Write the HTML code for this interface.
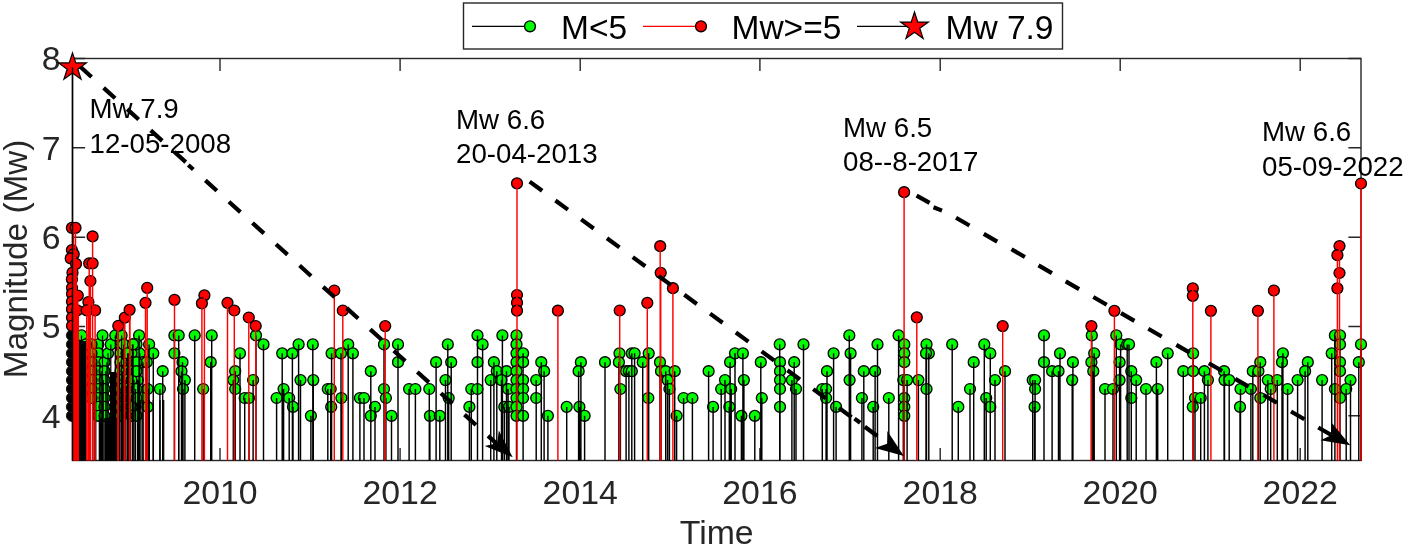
<!DOCTYPE html><html><head><meta charset="utf-8"><style>html,body{margin:0;padding:0;background:#fff;overflow:hidden;}svg{display:block;will-change:transform;}text{font-family:"Liberation Sans",sans-serif;}</style></head><body>
<svg width="1405" height="547" viewBox="0 0 1405 547">
<rect width="1405" height="547" fill="#fff"/>
<defs><clipPath id="ax"><rect x="72.5" y="58.5" width="1290.0" height="402.0"/></clipPath></defs>
<rect x="72.5" y="58.5" width="1288.5" height="402.0" fill="none" stroke="#262626" stroke-width="1.4"/>
<path d="M220.0 460.5V447.9M220.0 58.5V71.1 M400.1 460.5V447.9M400.1 58.5V71.1 M580.2 460.5V447.9M580.2 58.5V71.1 M759.9 460.5V447.9M759.9 58.5V71.1 M940.2 460.5V447.9M940.2 58.5V71.1 M1120.2 460.5V447.9M1120.2 58.5V71.1 M1300.2 460.5V447.9M1300.2 58.5V71.1 M72.5 415.8H85.1M1361.0 415.8H1348.4 M72.5 326.5H85.1M1361.0 326.5H1348.4 M72.5 237.2H85.1M1361.0 237.2H1348.4 M72.5 147.8H85.1M1361.0 147.8H1348.4 M72.5 58.5H85.1M1361.0 58.5H1348.4" stroke="#262626" stroke-width="1.4" fill="none"/>
<g clip-path="url(#ax)">

</g>
<circle cx="139.1" cy="335.4" r="5.45" fill="#0f0" stroke="#000" stroke-width="1.35"/>
<circle cx="132.5" cy="344.4" r="5.45" fill="#0f0" stroke="#000" stroke-width="1.35"/>
<circle cx="149.1" cy="344.4" r="5.45" fill="#0f0" stroke="#000" stroke-width="1.35"/>
<circle cx="139.7" cy="353.3" r="5.45" fill="#0f0" stroke="#000" stroke-width="1.35"/>
<circle cx="153.3" cy="353.3" r="5.45" fill="#0f0" stroke="#000" stroke-width="1.35"/>
<circle cx="142.9" cy="362.2" r="5.45" fill="#0f0" stroke="#000" stroke-width="1.35"/>
<circle cx="146.7" cy="362.2" r="5.45" fill="#0f0" stroke="#000" stroke-width="1.35"/>
<circle cx="128.8" cy="353.3" r="5.45" fill="#0f0" stroke="#000" stroke-width="1.35"/>
<circle cx="132.5" cy="371.2" r="5.45" fill="#0f0" stroke="#000" stroke-width="1.35"/>
<circle cx="162.7" cy="371.2" r="5.45" fill="#0f0" stroke="#000" stroke-width="1.35"/>
<circle cx="137.8" cy="380.1" r="5.45" fill="#0f0" stroke="#000" stroke-width="1.35"/>
<circle cx="147.6" cy="389.0" r="5.45" fill="#0f0" stroke="#000" stroke-width="1.35"/>
<circle cx="159.9" cy="389.0" r="5.45" fill="#0f0" stroke="#000" stroke-width="1.35"/>
<circle cx="142.9" cy="398.0" r="5.45" fill="#0f0" stroke="#000" stroke-width="1.35"/>
<circle cx="135.4" cy="406.9" r="5.45" fill="#0f0" stroke="#000" stroke-width="1.35"/>
<circle cx="147.6" cy="406.9" r="5.45" fill="#0f0" stroke="#000" stroke-width="1.35"/>
<circle cx="174.4" cy="335.4" r="5.45" fill="#0f0" stroke="#000" stroke-width="1.35"/>
<circle cx="178.7" cy="335.4" r="5.45" fill="#0f0" stroke="#000" stroke-width="1.35"/>
<circle cx="194.7" cy="335.4" r="5.45" fill="#0f0" stroke="#000" stroke-width="1.35"/>
<circle cx="211.7" cy="335.4" r="5.45" fill="#0f0" stroke="#000" stroke-width="1.35"/>
<circle cx="174.4" cy="353.3" r="5.45" fill="#0f0" stroke="#000" stroke-width="1.35"/>
<circle cx="182.5" cy="362.2" r="5.45" fill="#0f0" stroke="#000" stroke-width="1.35"/>
<circle cx="181.5" cy="371.2" r="5.45" fill="#0f0" stroke="#000" stroke-width="1.35"/>
<circle cx="184.9" cy="380.1" r="5.45" fill="#0f0" stroke="#000" stroke-width="1.35"/>
<circle cx="183.0" cy="389.0" r="5.45" fill="#0f0" stroke="#000" stroke-width="1.35"/>
<circle cx="203.2" cy="389.0" r="5.45" fill="#0f0" stroke="#000" stroke-width="1.35"/>
<circle cx="210.7" cy="362.2" r="5.45" fill="#0f0" stroke="#000" stroke-width="1.35"/>
<circle cx="240.0" cy="353.3" r="5.45" fill="#0f0" stroke="#000" stroke-width="1.35"/>
<circle cx="235.2" cy="371.2" r="5.45" fill="#0f0" stroke="#000" stroke-width="1.35"/>
<circle cx="233.3" cy="380.1" r="5.45" fill="#0f0" stroke="#000" stroke-width="1.35"/>
<circle cx="235.2" cy="389.0" r="5.45" fill="#0f0" stroke="#000" stroke-width="1.35"/>
<circle cx="253.1" cy="380.1" r="5.45" fill="#0f0" stroke="#000" stroke-width="1.35"/>
<circle cx="244.7" cy="398.0" r="5.45" fill="#0f0" stroke="#000" stroke-width="1.35"/>
<circle cx="249.0" cy="398.0" r="5.45" fill="#0f0" stroke="#000" stroke-width="1.35"/>
<circle cx="256.0" cy="335.4" r="5.45" fill="#0f0" stroke="#000" stroke-width="1.35"/>
<circle cx="263.5" cy="344.4" r="5.45" fill="#0f0" stroke="#000" stroke-width="1.35"/>
<circle cx="282.2" cy="353.3" r="5.45" fill="#0f0" stroke="#000" stroke-width="1.35"/>
<circle cx="292.4" cy="353.3" r="5.45" fill="#0f0" stroke="#000" stroke-width="1.35"/>
<circle cx="298.6" cy="344.4" r="5.45" fill="#0f0" stroke="#000" stroke-width="1.35"/>
<circle cx="312.8" cy="344.4" r="5.45" fill="#0f0" stroke="#000" stroke-width="1.35"/>
<circle cx="300.5" cy="380.1" r="5.45" fill="#0f0" stroke="#000" stroke-width="1.35"/>
<circle cx="313.3" cy="380.1" r="5.45" fill="#0f0" stroke="#000" stroke-width="1.35"/>
<circle cx="283.6" cy="389.0" r="5.45" fill="#0f0" stroke="#000" stroke-width="1.35"/>
<circle cx="276.6" cy="398.0" r="5.45" fill="#0f0" stroke="#000" stroke-width="1.35"/>
<circle cx="289.2" cy="398.0" r="5.45" fill="#0f0" stroke="#000" stroke-width="1.35"/>
<circle cx="293.0" cy="406.9" r="5.45" fill="#0f0" stroke="#000" stroke-width="1.35"/>
<circle cx="310.9" cy="415.8" r="5.45" fill="#0f0" stroke="#000" stroke-width="1.35"/>
<circle cx="327.8" cy="389.0" r="5.45" fill="#0f0" stroke="#000" stroke-width="1.35"/>
<circle cx="330.7" cy="389.0" r="5.45" fill="#0f0" stroke="#000" stroke-width="1.35"/>
<circle cx="331.2" cy="406.9" r="5.45" fill="#0f0" stroke="#000" stroke-width="1.35"/>
<circle cx="331.6" cy="353.3" r="5.45" fill="#0f0" stroke="#000" stroke-width="1.35"/>
<circle cx="341.0" cy="353.3" r="5.45" fill="#0f0" stroke="#000" stroke-width="1.35"/>
<circle cx="348.2" cy="344.4" r="5.45" fill="#0f0" stroke="#000" stroke-width="1.35"/>
<circle cx="352.9" cy="353.3" r="5.45" fill="#0f0" stroke="#000" stroke-width="1.35"/>
<circle cx="341.4" cy="398.0" r="5.45" fill="#0f0" stroke="#000" stroke-width="1.35"/>
<circle cx="359.9" cy="398.0" r="5.45" fill="#0f0" stroke="#000" stroke-width="1.35"/>
<circle cx="364.0" cy="398.0" r="5.45" fill="#0f0" stroke="#000" stroke-width="1.35"/>
<circle cx="370.8" cy="371.2" r="5.45" fill="#0f0" stroke="#000" stroke-width="1.35"/>
<circle cx="375.0" cy="406.9" r="5.45" fill="#0f0" stroke="#000" stroke-width="1.35"/>
<circle cx="370.8" cy="415.8" r="5.45" fill="#0f0" stroke="#000" stroke-width="1.35"/>
<circle cx="384.0" cy="344.4" r="5.45" fill="#0f0" stroke="#000" stroke-width="1.35"/>
<circle cx="384.0" cy="389.0" r="5.45" fill="#0f0" stroke="#000" stroke-width="1.35"/>
<circle cx="385.9" cy="398.0" r="5.45" fill="#0f0" stroke="#000" stroke-width="1.35"/>
<circle cx="391.5" cy="415.8" r="5.45" fill="#0f0" stroke="#000" stroke-width="1.35"/>
<circle cx="398.0" cy="344.4" r="5.45" fill="#0f0" stroke="#000" stroke-width="1.35"/>
<circle cx="398.0" cy="362.2" r="5.45" fill="#0f0" stroke="#000" stroke-width="1.35"/>
<circle cx="409.1" cy="389.0" r="5.45" fill="#0f0" stroke="#000" stroke-width="1.35"/>
<circle cx="415.4" cy="389.0" r="5.45" fill="#0f0" stroke="#000" stroke-width="1.35"/>
<circle cx="429.3" cy="389.0" r="5.45" fill="#0f0" stroke="#000" stroke-width="1.35"/>
<circle cx="436.1" cy="362.2" r="5.45" fill="#0f0" stroke="#000" stroke-width="1.35"/>
<circle cx="447.8" cy="344.4" r="5.45" fill="#0f0" stroke="#000" stroke-width="1.35"/>
<circle cx="451.2" cy="362.2" r="5.45" fill="#0f0" stroke="#000" stroke-width="1.35"/>
<circle cx="445.5" cy="380.1" r="5.45" fill="#0f0" stroke="#000" stroke-width="1.35"/>
<circle cx="448.7" cy="398.0" r="5.45" fill="#0f0" stroke="#000" stroke-width="1.35"/>
<circle cx="429.9" cy="415.8" r="5.45" fill="#0f0" stroke="#000" stroke-width="1.35"/>
<circle cx="439.8" cy="415.8" r="5.45" fill="#0f0" stroke="#000" stroke-width="1.35"/>
<circle cx="477.5" cy="335.4" r="5.45" fill="#0f0" stroke="#000" stroke-width="1.35"/>
<circle cx="482.6" cy="344.4" r="5.45" fill="#0f0" stroke="#000" stroke-width="1.35"/>
<circle cx="477.5" cy="362.2" r="5.45" fill="#0f0" stroke="#000" stroke-width="1.35"/>
<circle cx="471.3" cy="389.0" r="5.45" fill="#0f0" stroke="#000" stroke-width="1.35"/>
<circle cx="477.5" cy="389.0" r="5.45" fill="#0f0" stroke="#000" stroke-width="1.35"/>
<circle cx="469.4" cy="406.9" r="5.45" fill="#0f0" stroke="#000" stroke-width="1.35"/>
<circle cx="502.4" cy="335.4" r="5.45" fill="#0f0" stroke="#000" stroke-width="1.35"/>
<circle cx="493.9" cy="362.2" r="5.45" fill="#0f0" stroke="#000" stroke-width="1.35"/>
<circle cx="496.8" cy="371.2" r="5.45" fill="#0f0" stroke="#000" stroke-width="1.35"/>
<circle cx="506.5" cy="371.2" r="5.45" fill="#0f0" stroke="#000" stroke-width="1.35"/>
<circle cx="490.7" cy="380.1" r="5.45" fill="#0f0" stroke="#000" stroke-width="1.35"/>
<circle cx="501.5" cy="380.1" r="5.45" fill="#0f0" stroke="#000" stroke-width="1.35"/>
<circle cx="508.1" cy="389.0" r="5.45" fill="#0f0" stroke="#000" stroke-width="1.35"/>
<circle cx="504.3" cy="406.9" r="5.45" fill="#0f0" stroke="#000" stroke-width="1.35"/>
<circle cx="509.0" cy="406.9" r="5.45" fill="#0f0" stroke="#000" stroke-width="1.35"/>
<circle cx="516.5" cy="335.4" r="5.45" fill="#0f0" stroke="#000" stroke-width="1.35"/>
<circle cx="516.5" cy="344.4" r="5.45" fill="#0f0" stroke="#000" stroke-width="1.35"/>
<circle cx="516.5" cy="353.3" r="5.45" fill="#0f0" stroke="#000" stroke-width="1.35"/>
<circle cx="516.5" cy="362.2" r="5.45" fill="#0f0" stroke="#000" stroke-width="1.35"/>
<circle cx="516.5" cy="371.2" r="5.45" fill="#0f0" stroke="#000" stroke-width="1.35"/>
<circle cx="516.5" cy="380.1" r="5.45" fill="#0f0" stroke="#000" stroke-width="1.35"/>
<circle cx="516.5" cy="389.0" r="5.45" fill="#0f0" stroke="#000" stroke-width="1.35"/>
<circle cx="516.5" cy="398.0" r="5.45" fill="#0f0" stroke="#000" stroke-width="1.35"/>
<circle cx="516.5" cy="406.9" r="5.45" fill="#0f0" stroke="#000" stroke-width="1.35"/>
<circle cx="516.5" cy="415.8" r="5.45" fill="#0f0" stroke="#000" stroke-width="1.35"/>
<circle cx="523.1" cy="353.3" r="5.45" fill="#0f0" stroke="#000" stroke-width="1.35"/>
<circle cx="523.1" cy="362.2" r="5.45" fill="#0f0" stroke="#000" stroke-width="1.35"/>
<circle cx="523.1" cy="380.1" r="5.45" fill="#0f0" stroke="#000" stroke-width="1.35"/>
<circle cx="523.1" cy="389.0" r="5.45" fill="#0f0" stroke="#000" stroke-width="1.35"/>
<circle cx="523.1" cy="398.0" r="5.45" fill="#0f0" stroke="#000" stroke-width="1.35"/>
<circle cx="523.1" cy="415.8" r="5.45" fill="#0f0" stroke="#000" stroke-width="1.35"/>
<circle cx="541.3" cy="362.2" r="5.45" fill="#0f0" stroke="#000" stroke-width="1.35"/>
<circle cx="544.1" cy="371.2" r="5.45" fill="#0f0" stroke="#000" stroke-width="1.35"/>
<circle cx="536.2" cy="380.1" r="5.45" fill="#0f0" stroke="#000" stroke-width="1.35"/>
<circle cx="536.2" cy="398.0" r="5.45" fill="#0f0" stroke="#000" stroke-width="1.35"/>
<circle cx="547.9" cy="415.8" r="5.45" fill="#0f0" stroke="#000" stroke-width="1.35"/>
<circle cx="566.7" cy="406.9" r="5.45" fill="#0f0" stroke="#000" stroke-width="1.35"/>
<circle cx="580.9" cy="362.2" r="5.45" fill="#0f0" stroke="#000" stroke-width="1.35"/>
<circle cx="578.6" cy="371.2" r="5.45" fill="#0f0" stroke="#000" stroke-width="1.35"/>
<circle cx="579.4" cy="406.9" r="5.45" fill="#0f0" stroke="#000" stroke-width="1.35"/>
<circle cx="584.6" cy="415.8" r="5.45" fill="#0f0" stroke="#000" stroke-width="1.35"/>
<circle cx="605.0" cy="362.2" r="5.45" fill="#0f0" stroke="#000" stroke-width="1.35"/>
<circle cx="619.5" cy="353.3" r="5.45" fill="#0f0" stroke="#000" stroke-width="1.35"/>
<circle cx="618.9" cy="362.2" r="5.45" fill="#0f0" stroke="#000" stroke-width="1.35"/>
<circle cx="620.4" cy="389.0" r="5.45" fill="#0f0" stroke="#000" stroke-width="1.35"/>
<circle cx="626.1" cy="371.2" r="5.45" fill="#0f0" stroke="#000" stroke-width="1.35"/>
<circle cx="628.9" cy="371.2" r="5.45" fill="#0f0" stroke="#000" stroke-width="1.35"/>
<circle cx="631.8" cy="371.2" r="5.45" fill="#0f0" stroke="#000" stroke-width="1.35"/>
<circle cx="631.8" cy="353.3" r="5.45" fill="#0f0" stroke="#000" stroke-width="1.35"/>
<circle cx="634.6" cy="353.3" r="5.45" fill="#0f0" stroke="#000" stroke-width="1.35"/>
<circle cx="642.7" cy="362.2" r="5.45" fill="#0f0" stroke="#000" stroke-width="1.35"/>
<circle cx="648.7" cy="353.3" r="5.45" fill="#0f0" stroke="#000" stroke-width="1.35"/>
<circle cx="648.3" cy="398.0" r="5.45" fill="#0f0" stroke="#000" stroke-width="1.35"/>
<circle cx="660.0" cy="362.2" r="5.45" fill="#0f0" stroke="#000" stroke-width="1.35"/>
<circle cx="661.0" cy="371.2" r="5.45" fill="#0f0" stroke="#000" stroke-width="1.35"/>
<circle cx="665.7" cy="371.2" r="5.45" fill="#0f0" stroke="#000" stroke-width="1.35"/>
<circle cx="667.6" cy="380.1" r="5.45" fill="#0f0" stroke="#000" stroke-width="1.35"/>
<circle cx="669.4" cy="389.0" r="5.45" fill="#0f0" stroke="#000" stroke-width="1.35"/>
<circle cx="674.7" cy="371.2" r="5.45" fill="#0f0" stroke="#000" stroke-width="1.35"/>
<circle cx="676.6" cy="415.8" r="5.45" fill="#0f0" stroke="#000" stroke-width="1.35"/>
<circle cx="683.6" cy="398.0" r="5.45" fill="#0f0" stroke="#000" stroke-width="1.35"/>
<circle cx="692.4" cy="398.0" r="5.45" fill="#0f0" stroke="#000" stroke-width="1.35"/>
<circle cx="708.6" cy="371.2" r="5.45" fill="#0f0" stroke="#000" stroke-width="1.35"/>
<circle cx="713.1" cy="406.9" r="5.45" fill="#0f0" stroke="#000" stroke-width="1.35"/>
<circle cx="721.2" cy="389.0" r="5.45" fill="#0f0" stroke="#000" stroke-width="1.35"/>
<circle cx="725.0" cy="380.1" r="5.45" fill="#0f0" stroke="#000" stroke-width="1.35"/>
<circle cx="730.1" cy="362.2" r="5.45" fill="#0f0" stroke="#000" stroke-width="1.35"/>
<circle cx="731.2" cy="389.0" r="5.45" fill="#0f0" stroke="#000" stroke-width="1.35"/>
<circle cx="729.3" cy="406.9" r="5.45" fill="#0f0" stroke="#000" stroke-width="1.35"/>
<circle cx="735.0" cy="353.3" r="5.45" fill="#0f0" stroke="#000" stroke-width="1.35"/>
<circle cx="742.9" cy="353.3" r="5.45" fill="#0f0" stroke="#000" stroke-width="1.35"/>
<circle cx="743.9" cy="380.1" r="5.45" fill="#0f0" stroke="#000" stroke-width="1.35"/>
<circle cx="741.4" cy="415.8" r="5.45" fill="#0f0" stroke="#000" stroke-width="1.35"/>
<circle cx="754.8" cy="415.8" r="5.45" fill="#0f0" stroke="#000" stroke-width="1.35"/>
<circle cx="760.8" cy="362.2" r="5.45" fill="#0f0" stroke="#000" stroke-width="1.35"/>
<circle cx="761.8" cy="398.0" r="5.45" fill="#0f0" stroke="#000" stroke-width="1.35"/>
<circle cx="779.7" cy="344.4" r="5.45" fill="#0f0" stroke="#000" stroke-width="1.35"/>
<circle cx="780.0" cy="362.2" r="5.45" fill="#0f0" stroke="#000" stroke-width="1.35"/>
<circle cx="780.0" cy="371.2" r="5.45" fill="#0f0" stroke="#000" stroke-width="1.35"/>
<circle cx="780.0" cy="380.1" r="5.45" fill="#0f0" stroke="#000" stroke-width="1.35"/>
<circle cx="780.0" cy="389.0" r="5.45" fill="#0f0" stroke="#000" stroke-width="1.35"/>
<circle cx="780.0" cy="406.9" r="5.45" fill="#0f0" stroke="#000" stroke-width="1.35"/>
<circle cx="794.2" cy="362.2" r="5.45" fill="#0f0" stroke="#000" stroke-width="1.35"/>
<circle cx="791.9" cy="380.1" r="5.45" fill="#0f0" stroke="#000" stroke-width="1.35"/>
<circle cx="796.0" cy="389.0" r="5.45" fill="#0f0" stroke="#000" stroke-width="1.35"/>
<circle cx="803.5" cy="344.4" r="5.45" fill="#0f0" stroke="#000" stroke-width="1.35"/>
<circle cx="833.6" cy="353.3" r="5.45" fill="#0f0" stroke="#000" stroke-width="1.35"/>
<circle cx="827.0" cy="371.2" r="5.45" fill="#0f0" stroke="#000" stroke-width="1.35"/>
<circle cx="822.3" cy="389.0" r="5.45" fill="#0f0" stroke="#000" stroke-width="1.35"/>
<circle cx="826.1" cy="389.0" r="5.45" fill="#0f0" stroke="#000" stroke-width="1.35"/>
<circle cx="826.1" cy="398.0" r="5.45" fill="#0f0" stroke="#000" stroke-width="1.35"/>
<circle cx="836.1" cy="406.9" r="5.45" fill="#0f0" stroke="#000" stroke-width="1.35"/>
<circle cx="849.3" cy="335.4" r="5.45" fill="#0f0" stroke="#000" stroke-width="1.35"/>
<circle cx="850.6" cy="353.3" r="5.45" fill="#0f0" stroke="#000" stroke-width="1.35"/>
<circle cx="849.6" cy="380.1" r="5.45" fill="#0f0" stroke="#000" stroke-width="1.35"/>
<circle cx="863.8" cy="371.2" r="5.45" fill="#0f0" stroke="#000" stroke-width="1.35"/>
<circle cx="875.1" cy="371.2" r="5.45" fill="#0f0" stroke="#000" stroke-width="1.35"/>
<circle cx="861.9" cy="398.0" r="5.45" fill="#0f0" stroke="#000" stroke-width="1.35"/>
<circle cx="873.2" cy="406.9" r="5.45" fill="#0f0" stroke="#000" stroke-width="1.35"/>
<circle cx="877.5" cy="344.4" r="5.45" fill="#0f0" stroke="#000" stroke-width="1.35"/>
<circle cx="888.8" cy="398.0" r="5.45" fill="#0f0" stroke="#000" stroke-width="1.35"/>
<circle cx="898.6" cy="335.4" r="5.45" fill="#0f0" stroke="#000" stroke-width="1.35"/>
<circle cx="904.3" cy="344.4" r="5.45" fill="#0f0" stroke="#000" stroke-width="1.35"/>
<circle cx="904.3" cy="353.3" r="5.45" fill="#0f0" stroke="#000" stroke-width="1.35"/>
<circle cx="904.3" cy="362.2" r="5.45" fill="#0f0" stroke="#000" stroke-width="1.35"/>
<circle cx="903.3" cy="380.1" r="5.45" fill="#0f0" stroke="#000" stroke-width="1.35"/>
<circle cx="907.1" cy="380.1" r="5.45" fill="#0f0" stroke="#000" stroke-width="1.35"/>
<circle cx="904.3" cy="398.0" r="5.45" fill="#0f0" stroke="#000" stroke-width="1.35"/>
<circle cx="904.3" cy="406.9" r="5.45" fill="#0f0" stroke="#000" stroke-width="1.35"/>
<circle cx="904.3" cy="415.8" r="5.45" fill="#0f0" stroke="#000" stroke-width="1.35"/>
<circle cx="918.4" cy="380.1" r="5.45" fill="#0f0" stroke="#000" stroke-width="1.35"/>
<circle cx="926.5" cy="344.4" r="5.45" fill="#0f0" stroke="#000" stroke-width="1.35"/>
<circle cx="928.8" cy="353.3" r="5.45" fill="#0f0" stroke="#000" stroke-width="1.35"/>
<circle cx="926.0" cy="353.3" r="5.45" fill="#0f0" stroke="#000" stroke-width="1.35"/>
<circle cx="926.5" cy="389.0" r="5.45" fill="#0f0" stroke="#000" stroke-width="1.35"/>
<circle cx="952.2" cy="344.4" r="5.45" fill="#0f0" stroke="#000" stroke-width="1.35"/>
<circle cx="958.3" cy="406.9" r="5.45" fill="#0f0" stroke="#000" stroke-width="1.35"/>
<circle cx="973.7" cy="362.2" r="5.45" fill="#0f0" stroke="#000" stroke-width="1.35"/>
<circle cx="970.0" cy="389.0" r="5.45" fill="#0f0" stroke="#000" stroke-width="1.35"/>
<circle cx="984.3" cy="344.4" r="5.45" fill="#0f0" stroke="#000" stroke-width="1.35"/>
<circle cx="990.3" cy="353.3" r="5.45" fill="#0f0" stroke="#000" stroke-width="1.35"/>
<circle cx="995.0" cy="380.1" r="5.45" fill="#0f0" stroke="#000" stroke-width="1.35"/>
<circle cx="986.2" cy="398.0" r="5.45" fill="#0f0" stroke="#000" stroke-width="1.35"/>
<circle cx="990.3" cy="406.9" r="5.45" fill="#0f0" stroke="#000" stroke-width="1.35"/>
<circle cx="1005.0" cy="371.2" r="5.45" fill="#0f0" stroke="#000" stroke-width="1.35"/>
<circle cx="1032.7" cy="380.1" r="5.45" fill="#0f0" stroke="#000" stroke-width="1.35"/>
<circle cx="1035.1" cy="380.1" r="5.45" fill="#0f0" stroke="#000" stroke-width="1.35"/>
<circle cx="1035.1" cy="389.0" r="5.45" fill="#0f0" stroke="#000" stroke-width="1.35"/>
<circle cx="1034.6" cy="406.9" r="5.45" fill="#0f0" stroke="#000" stroke-width="1.35"/>
<circle cx="1044.0" cy="335.4" r="5.45" fill="#0f0" stroke="#000" stroke-width="1.35"/>
<circle cx="1044.0" cy="362.2" r="5.45" fill="#0f0" stroke="#000" stroke-width="1.35"/>
<circle cx="1052.1" cy="371.2" r="5.45" fill="#0f0" stroke="#000" stroke-width="1.35"/>
<circle cx="1058.5" cy="371.2" r="5.45" fill="#0f0" stroke="#000" stroke-width="1.35"/>
<circle cx="1060.0" cy="353.3" r="5.45" fill="#0f0" stroke="#000" stroke-width="1.35"/>
<circle cx="1072.9" cy="362.2" r="5.45" fill="#0f0" stroke="#000" stroke-width="1.35"/>
<circle cx="1072.2" cy="380.1" r="5.45" fill="#0f0" stroke="#000" stroke-width="1.35"/>
<circle cx="1091.8" cy="335.4" r="5.45" fill="#0f0" stroke="#000" stroke-width="1.35"/>
<circle cx="1094.2" cy="353.3" r="5.45" fill="#0f0" stroke="#000" stroke-width="1.35"/>
<circle cx="1091.4" cy="362.2" r="5.45" fill="#0f0" stroke="#000" stroke-width="1.35"/>
<circle cx="1093.3" cy="371.2" r="5.45" fill="#0f0" stroke="#000" stroke-width="1.35"/>
<circle cx="1105.0" cy="389.0" r="5.45" fill="#0f0" stroke="#000" stroke-width="1.35"/>
<circle cx="1113.0" cy="389.0" r="5.45" fill="#0f0" stroke="#000" stroke-width="1.35"/>
<circle cx="1116.3" cy="335.4" r="5.45" fill="#0f0" stroke="#000" stroke-width="1.35"/>
<circle cx="1120.6" cy="344.4" r="5.45" fill="#0f0" stroke="#000" stroke-width="1.35"/>
<circle cx="1127.2" cy="344.4" r="5.45" fill="#0f0" stroke="#000" stroke-width="1.35"/>
<circle cx="1129.0" cy="344.4" r="5.45" fill="#0f0" stroke="#000" stroke-width="1.35"/>
<circle cx="1119.6" cy="362.2" r="5.45" fill="#0f0" stroke="#000" stroke-width="1.35"/>
<circle cx="1119.6" cy="380.1" r="5.45" fill="#0f0" stroke="#000" stroke-width="1.35"/>
<circle cx="1131.3" cy="371.2" r="5.45" fill="#0f0" stroke="#000" stroke-width="1.35"/>
<circle cx="1136.2" cy="380.1" r="5.45" fill="#0f0" stroke="#000" stroke-width="1.35"/>
<circle cx="1131.3" cy="398.0" r="5.45" fill="#0f0" stroke="#000" stroke-width="1.35"/>
<circle cx="1146.0" cy="389.0" r="5.45" fill="#0f0" stroke="#000" stroke-width="1.35"/>
<circle cx="1156.4" cy="362.2" r="5.45" fill="#0f0" stroke="#000" stroke-width="1.35"/>
<circle cx="1157.7" cy="389.0" r="5.45" fill="#0f0" stroke="#000" stroke-width="1.35"/>
<circle cx="1167.7" cy="353.3" r="5.45" fill="#0f0" stroke="#000" stroke-width="1.35"/>
<circle cx="1183.3" cy="371.2" r="5.45" fill="#0f0" stroke="#000" stroke-width="1.35"/>
<circle cx="1193.1" cy="353.3" r="5.45" fill="#0f0" stroke="#000" stroke-width="1.35"/>
<circle cx="1193.1" cy="371.2" r="5.45" fill="#0f0" stroke="#000" stroke-width="1.35"/>
<circle cx="1195.0" cy="398.0" r="5.45" fill="#0f0" stroke="#000" stroke-width="1.35"/>
<circle cx="1192.8" cy="406.9" r="5.45" fill="#0f0" stroke="#000" stroke-width="1.35"/>
<circle cx="1200.7" cy="398.0" r="5.45" fill="#0f0" stroke="#000" stroke-width="1.35"/>
<circle cx="1204.4" cy="371.2" r="5.45" fill="#0f0" stroke="#000" stroke-width="1.35"/>
<circle cx="1207.9" cy="380.1" r="5.45" fill="#0f0" stroke="#000" stroke-width="1.35"/>
<circle cx="1224.1" cy="371.2" r="5.45" fill="#0f0" stroke="#000" stroke-width="1.35"/>
<circle cx="1224.5" cy="380.1" r="5.45" fill="#0f0" stroke="#000" stroke-width="1.35"/>
<circle cx="1229.2" cy="380.1" r="5.45" fill="#0f0" stroke="#000" stroke-width="1.35"/>
<circle cx="1240.5" cy="389.0" r="5.45" fill="#0f0" stroke="#000" stroke-width="1.35"/>
<circle cx="1240.0" cy="406.9" r="5.45" fill="#0f0" stroke="#000" stroke-width="1.35"/>
<circle cx="1250.9" cy="389.0" r="5.45" fill="#0f0" stroke="#000" stroke-width="1.35"/>
<circle cx="1252.8" cy="371.2" r="5.45" fill="#0f0" stroke="#000" stroke-width="1.35"/>
<circle cx="1258.4" cy="371.2" r="5.45" fill="#0f0" stroke="#000" stroke-width="1.35"/>
<circle cx="1260.3" cy="362.2" r="5.45" fill="#0f0" stroke="#000" stroke-width="1.35"/>
<circle cx="1260.3" cy="398.0" r="5.45" fill="#0f0" stroke="#000" stroke-width="1.35"/>
<circle cx="1267.8" cy="380.1" r="5.45" fill="#0f0" stroke="#000" stroke-width="1.35"/>
<circle cx="1270.7" cy="389.0" r="5.45" fill="#0f0" stroke="#000" stroke-width="1.35"/>
<circle cx="1277.3" cy="380.1" r="5.45" fill="#0f0" stroke="#000" stroke-width="1.35"/>
<circle cx="1282.9" cy="353.3" r="5.45" fill="#0f0" stroke="#000" stroke-width="1.35"/>
<circle cx="1282.0" cy="362.2" r="5.45" fill="#0f0" stroke="#000" stroke-width="1.35"/>
<circle cx="1287.6" cy="389.0" r="5.45" fill="#0f0" stroke="#000" stroke-width="1.35"/>
<circle cx="1297.6" cy="380.1" r="5.45" fill="#0f0" stroke="#000" stroke-width="1.35"/>
<circle cx="1307.8" cy="362.2" r="5.45" fill="#0f0" stroke="#000" stroke-width="1.35"/>
<circle cx="1305.1" cy="371.2" r="5.45" fill="#0f0" stroke="#000" stroke-width="1.35"/>
<circle cx="1322.1" cy="380.1" r="5.45" fill="#0f0" stroke="#000" stroke-width="1.35"/>
<circle cx="1334.9" cy="335.4" r="5.45" fill="#0f0" stroke="#000" stroke-width="1.35"/>
<circle cx="1340.0" cy="335.4" r="5.45" fill="#0f0" stroke="#000" stroke-width="1.35"/>
<circle cx="1340.0" cy="344.4" r="5.45" fill="#0f0" stroke="#000" stroke-width="1.35"/>
<circle cx="1331.7" cy="353.3" r="5.45" fill="#0f0" stroke="#000" stroke-width="1.35"/>
<circle cx="1340.0" cy="362.2" r="5.45" fill="#0f0" stroke="#000" stroke-width="1.35"/>
<circle cx="1340.0" cy="371.2" r="5.45" fill="#0f0" stroke="#000" stroke-width="1.35"/>
<circle cx="1350.5" cy="380.1" r="5.45" fill="#0f0" stroke="#000" stroke-width="1.35"/>
<circle cx="1334.9" cy="389.0" r="5.45" fill="#0f0" stroke="#000" stroke-width="1.35"/>
<circle cx="1346.2" cy="389.0" r="5.45" fill="#0f0" stroke="#000" stroke-width="1.35"/>
<circle cx="1340.0" cy="398.0" r="5.45" fill="#0f0" stroke="#000" stroke-width="1.35"/>
<circle cx="1361.0" cy="344.4" r="5.45" fill="#0f0" stroke="#000" stroke-width="1.35"/>
<circle cx="1358.8" cy="362.2" r="5.45" fill="#0f0" stroke="#000" stroke-width="1.35"/>
<circle cx="98.30" cy="344.4" r="5.45" fill="#0f0" stroke="#000" stroke-width="1.35"/><circle cx="98.30" cy="353.3" r="5.45" fill="#0f0" stroke="#000" stroke-width="1.35"/><circle cx="98.30" cy="362.2" r="5.45" fill="#0f0" stroke="#000" stroke-width="1.35"/><circle cx="98.30" cy="371.2" r="5.45" fill="#0f0" stroke="#000" stroke-width="1.35"/><circle cx="98.30" cy="380.1" r="5.45" fill="#0f0" stroke="#000" stroke-width="1.35"/><circle cx="98.30" cy="389.0" r="5.45" fill="#0f0" stroke="#000" stroke-width="1.35"/><circle cx="98.30" cy="398.0" r="5.45" fill="#0f0" stroke="#000" stroke-width="1.35"/><circle cx="98.30" cy="406.9" r="5.45" fill="#0f0" stroke="#000" stroke-width="1.35"/><circle cx="98.30" cy="415.8" r="5.45" fill="#0f0" stroke="#000" stroke-width="1.35"/><circle cx="104.50" cy="362.2" r="5.45" fill="#0f0" stroke="#000" stroke-width="1.35"/><circle cx="104.50" cy="371.2" r="5.45" fill="#0f0" stroke="#000" stroke-width="1.35"/><circle cx="104.50" cy="380.1" r="5.45" fill="#0f0" stroke="#000" stroke-width="1.35"/><circle cx="104.50" cy="389.0" r="5.45" fill="#0f0" stroke="#000" stroke-width="1.35"/><circle cx="104.50" cy="398.0" r="5.45" fill="#0f0" stroke="#000" stroke-width="1.35"/><circle cx="104.50" cy="406.9" r="5.45" fill="#0f0" stroke="#000" stroke-width="1.35"/><circle cx="104.50" cy="415.8" r="5.45" fill="#0f0" stroke="#000" stroke-width="1.35"/><circle cx="120.50" cy="344.4" r="5.45" fill="#0f0" stroke="#000" stroke-width="1.35"/><circle cx="120.50" cy="353.3" r="5.45" fill="#0f0" stroke="#000" stroke-width="1.35"/><circle cx="120.50" cy="362.2" r="5.45" fill="#0f0" stroke="#000" stroke-width="1.35"/><circle cx="120.50" cy="371.2" r="5.45" fill="#0f0" stroke="#000" stroke-width="1.35"/><circle cx="120.50" cy="380.1" r="5.45" fill="#0f0" stroke="#000" stroke-width="1.35"/><circle cx="120.50" cy="389.0" r="5.45" fill="#0f0" stroke="#000" stroke-width="1.35"/><circle cx="120.50" cy="398.0" r="5.45" fill="#0f0" stroke="#000" stroke-width="1.35"/><circle cx="120.50" cy="406.9" r="5.45" fill="#0f0" stroke="#000" stroke-width="1.35"/><circle cx="120.50" cy="415.8" r="5.45" fill="#0f0" stroke="#000" stroke-width="1.35"/><circle cx="126.50" cy="353.3" r="5.45" fill="#0f0" stroke="#000" stroke-width="1.35"/><circle cx="126.50" cy="362.2" r="5.45" fill="#0f0" stroke="#000" stroke-width="1.35"/><circle cx="126.50" cy="371.2" r="5.45" fill="#0f0" stroke="#000" stroke-width="1.35"/><circle cx="126.50" cy="380.1" r="5.45" fill="#0f0" stroke="#000" stroke-width="1.35"/><circle cx="126.50" cy="389.0" r="5.45" fill="#0f0" stroke="#000" stroke-width="1.35"/><circle cx="126.50" cy="398.0" r="5.45" fill="#0f0" stroke="#000" stroke-width="1.35"/><circle cx="126.50" cy="406.9" r="5.45" fill="#0f0" stroke="#000" stroke-width="1.35"/><circle cx="131.50" cy="353.3" r="5.45" fill="#0f0" stroke="#000" stroke-width="1.35"/><circle cx="131.50" cy="362.2" r="5.45" fill="#0f0" stroke="#000" stroke-width="1.35"/><circle cx="131.50" cy="371.2" r="5.45" fill="#0f0" stroke="#000" stroke-width="1.35"/><circle cx="131.50" cy="380.1" r="5.45" fill="#0f0" stroke="#000" stroke-width="1.35"/><circle cx="131.50" cy="389.0" r="5.45" fill="#0f0" stroke="#000" stroke-width="1.35"/><circle cx="131.50" cy="398.0" r="5.45" fill="#0f0" stroke="#000" stroke-width="1.35"/><circle cx="131.50" cy="406.9" r="5.45" fill="#0f0" stroke="#000" stroke-width="1.35"/><circle cx="131.50" cy="415.8" r="5.45" fill="#0f0" stroke="#000" stroke-width="1.35"/><circle cx="136.50" cy="344.4" r="5.45" fill="#0f0" stroke="#000" stroke-width="1.35"/><circle cx="136.50" cy="362.2" r="5.45" fill="#0f0" stroke="#000" stroke-width="1.35"/><circle cx="136.50" cy="371.2" r="5.45" fill="#0f0" stroke="#000" stroke-width="1.35"/><circle cx="136.50" cy="389.0" r="5.45" fill="#0f0" stroke="#000" stroke-width="1.35"/><circle cx="136.50" cy="398.0" r="5.45" fill="#0f0" stroke="#000" stroke-width="1.35"/><circle cx="136.50" cy="415.8" r="5.45" fill="#0f0" stroke="#000" stroke-width="1.35"/><circle cx="91.50" cy="344.4" r="5.45" fill="#0f0" stroke="#000" stroke-width="1.35"/><circle cx="91.50" cy="353.3" r="5.45" fill="#0f0" stroke="#000" stroke-width="1.35"/><circle cx="91.50" cy="362.2" r="5.45" fill="#0f0" stroke="#000" stroke-width="1.35"/><circle cx="91.50" cy="371.2" r="5.45" fill="#0f0" stroke="#000" stroke-width="1.35"/><circle cx="91.50" cy="380.1" r="5.45" fill="#0f0" stroke="#000" stroke-width="1.35"/><circle cx="91.50" cy="389.0" r="5.45" fill="#0f0" stroke="#000" stroke-width="1.35"/><circle cx="91.50" cy="398.0" r="5.45" fill="#0f0" stroke="#000" stroke-width="1.35"/><circle cx="81.50" cy="335.4" r="5.45" fill="#0f0" stroke="#000" stroke-width="1.35"/><circle cx="86.00" cy="344.4" r="5.45" fill="#0f0" stroke="#000" stroke-width="1.35"/><circle cx="102.50" cy="335.4" r="5.45" fill="#0f0" stroke="#000" stroke-width="1.35"/><circle cx="108.00" cy="353.3" r="5.45" fill="#0f0" stroke="#000" stroke-width="1.35"/><circle cx="110.80" cy="344.4" r="5.45" fill="#0f0" stroke="#000" stroke-width="1.35"/><circle cx="115.30" cy="335.4" r="5.45" fill="#0f0" stroke="#000" stroke-width="1.35"/><circle cx="121.60" cy="335.4" r="5.45" fill="#0f0" stroke="#000" stroke-width="1.35"/><circle cx="123.60" cy="344.4" r="5.45" fill="#0f0" stroke="#000" stroke-width="1.35"/><circle cx="127.60" cy="353.3" r="5.45" fill="#0f0" stroke="#000" stroke-width="1.35"/><circle cx="133.00" cy="344.4" r="5.45" fill="#0f0" stroke="#000" stroke-width="1.35"/><circle cx="72" cy="415.8" r="5.6" fill="#000" stroke="#1a1a1a" stroke-width="1"/><circle cx="72" cy="406.9" r="5.6" fill="#000" stroke="#1a1a1a" stroke-width="1"/><circle cx="72" cy="398.0" r="5.6" fill="#000" stroke="#1a1a1a" stroke-width="1"/><circle cx="72" cy="389.0" r="5.6" fill="#000" stroke="#1a1a1a" stroke-width="1"/><circle cx="72" cy="380.1" r="5.6" fill="#000" stroke="#1a1a1a" stroke-width="1"/><circle cx="72" cy="371.2" r="5.6" fill="#000" stroke="#1a1a1a" stroke-width="1"/><circle cx="72" cy="362.2" r="5.6" fill="#000" stroke="#1a1a1a" stroke-width="1"/><circle cx="72" cy="353.3" r="5.6" fill="#000" stroke="#1a1a1a" stroke-width="1"/><circle cx="72" cy="344.4" r="5.6" fill="#000" stroke="#1a1a1a" stroke-width="1"/><circle cx="72" cy="335.4" r="5.6" fill="#000" stroke="#1a1a1a" stroke-width="1"/>
<g clip-path="url(#ax)">
<path d="M139.1 462.5V335.4 M132.5 462.5V344.4 M149.1 462.5V344.4 M139.7 462.5V353.3 M153.3 462.5V353.3 M142.9 462.5V362.2 M146.7 462.5V362.2 M128.8 462.5V353.3 M132.5 462.5V371.2 M162.7 462.5V371.2 M137.8 462.5V380.1 M147.6 462.5V389.0 M159.9 462.5V389.0 M142.9 462.5V398.0 M135.4 462.5V406.9 M147.6 462.5V406.9 M174.4 462.5V335.4 M178.7 462.5V335.4 M194.7 462.5V335.4 M211.7 462.5V335.4 M174.4 462.5V353.3 M182.5 462.5V362.2 M181.5 462.5V371.2 M184.9 462.5V380.1 M183.0 462.5V389.0 M203.2 462.5V389.0 M210.7 462.5V362.2 M240.0 462.5V353.3 M235.2 462.5V371.2 M233.3 462.5V380.1 M235.2 462.5V389.0 M253.1 462.5V380.1 M244.7 462.5V398.0 M249.0 462.5V398.0 M256.0 462.5V335.4 M263.5 462.5V344.4 M282.2 462.5V353.3 M292.4 462.5V353.3 M298.6 462.5V344.4 M312.8 462.5V344.4 M300.5 462.5V380.1 M313.3 462.5V380.1 M283.6 462.5V389.0 M276.6 462.5V398.0 M289.2 462.5V398.0 M293.0 462.5V406.9 M310.9 462.5V415.8 M327.8 462.5V389.0 M330.7 462.5V389.0 M331.2 462.5V406.9 M331.6 462.5V353.3 M341.0 462.5V353.3 M348.2 462.5V344.4 M352.9 462.5V353.3 M341.4 462.5V398.0 M359.9 462.5V398.0 M364.0 462.5V398.0 M370.8 462.5V371.2 M375.0 462.5V406.9 M370.8 462.5V415.8 M384.0 462.5V344.4 M384.0 462.5V389.0 M385.9 462.5V398.0 M391.5 462.5V415.8 M398.0 462.5V344.4 M398.0 462.5V362.2 M409.1 462.5V389.0 M415.4 462.5V389.0 M429.3 462.5V389.0 M436.1 462.5V362.2 M447.8 462.5V344.4 M451.2 462.5V362.2 M445.5 462.5V380.1 M448.7 462.5V398.0 M429.9 462.5V415.8 M439.8 462.5V415.8 M477.5 462.5V335.4 M482.6 462.5V344.4 M477.5 462.5V362.2 M471.3 462.5V389.0 M477.5 462.5V389.0 M469.4 462.5V406.9 M502.4 462.5V335.4 M493.9 462.5V362.2 M496.8 462.5V371.2 M506.5 462.5V371.2 M490.7 462.5V380.1 M501.5 462.5V380.1 M508.1 462.5V389.0 M504.3 462.5V406.9 M509.0 462.5V406.9 M516.5 462.5V335.4 M516.5 462.5V344.4 M516.5 462.5V353.3 M516.5 462.5V362.2 M516.5 462.5V371.2 M516.5 462.5V380.1 M516.5 462.5V389.0 M516.5 462.5V398.0 M516.5 462.5V406.9 M516.5 462.5V415.8 M523.1 462.5V353.3 M523.1 462.5V362.2 M523.1 462.5V380.1 M523.1 462.5V389.0 M523.1 462.5V398.0 M523.1 462.5V415.8 M541.3 462.5V362.2 M544.1 462.5V371.2 M536.2 462.5V380.1 M536.2 462.5V398.0 M547.9 462.5V415.8 M566.7 462.5V406.9 M580.9 462.5V362.2 M578.6 462.5V371.2 M579.4 462.5V406.9 M584.6 462.5V415.8 M605.0 462.5V362.2 M619.5 462.5V353.3 M618.9 462.5V362.2 M620.4 462.5V389.0 M626.1 462.5V371.2 M628.9 462.5V371.2 M631.8 462.5V371.2 M631.8 462.5V353.3 M634.6 462.5V353.3 M642.7 462.5V362.2 M648.7 462.5V353.3 M648.3 462.5V398.0 M660.0 462.5V362.2 M661.0 462.5V371.2 M665.7 462.5V371.2 M667.6 462.5V380.1 M669.4 462.5V389.0 M674.7 462.5V371.2 M676.6 462.5V415.8 M683.6 462.5V398.0 M692.4 462.5V398.0 M708.6 462.5V371.2 M713.1 462.5V406.9 M721.2 462.5V389.0 M725.0 462.5V380.1 M730.1 462.5V362.2 M731.2 462.5V389.0 M729.3 462.5V406.9 M735.0 462.5V353.3 M742.9 462.5V353.3 M743.9 462.5V380.1 M741.4 462.5V415.8 M754.8 462.5V415.8 M760.8 462.5V362.2 M761.8 462.5V398.0 M779.7 462.5V344.4 M780.0 462.5V362.2 M780.0 462.5V371.2 M780.0 462.5V380.1 M780.0 462.5V389.0 M780.0 462.5V406.9 M794.2 462.5V362.2 M791.9 462.5V380.1 M796.0 462.5V389.0 M803.5 462.5V344.4 M833.6 462.5V353.3 M827.0 462.5V371.2 M822.3 462.5V389.0 M826.1 462.5V389.0 M826.1 462.5V398.0 M836.1 462.5V406.9 M849.3 462.5V335.4 M850.6 462.5V353.3 M849.6 462.5V380.1 M863.8 462.5V371.2 M875.1 462.5V371.2 M861.9 462.5V398.0 M873.2 462.5V406.9 M877.5 462.5V344.4 M888.8 462.5V398.0 M898.6 462.5V335.4 M904.3 462.5V344.4 M904.3 462.5V353.3 M904.3 462.5V362.2 M903.3 462.5V380.1 M907.1 462.5V380.1 M904.3 462.5V398.0 M904.3 462.5V406.9 M904.3 462.5V415.8 M918.4 462.5V380.1 M926.5 462.5V344.4 M928.8 462.5V353.3 M926.0 462.5V353.3 M926.5 462.5V389.0 M952.2 462.5V344.4 M958.3 462.5V406.9 M973.7 462.5V362.2 M970.0 462.5V389.0 M984.3 462.5V344.4 M990.3 462.5V353.3 M995.0 462.5V380.1 M986.2 462.5V398.0 M990.3 462.5V406.9 M1005.0 462.5V371.2 M1032.7 462.5V380.1 M1035.1 462.5V380.1 M1035.1 462.5V389.0 M1034.6 462.5V406.9 M1044.0 462.5V335.4 M1044.0 462.5V362.2 M1052.1 462.5V371.2 M1058.5 462.5V371.2 M1060.0 462.5V353.3 M1072.9 462.5V362.2 M1072.2 462.5V380.1 M1091.8 462.5V335.4 M1094.2 462.5V353.3 M1091.4 462.5V362.2 M1093.3 462.5V371.2 M1105.0 462.5V389.0 M1113.0 462.5V389.0 M1116.3 462.5V335.4 M1120.6 462.5V344.4 M1127.2 462.5V344.4 M1129.0 462.5V344.4 M1119.6 462.5V362.2 M1119.6 462.5V380.1 M1131.3 462.5V371.2 M1136.2 462.5V380.1 M1131.3 462.5V398.0 M1146.0 462.5V389.0 M1156.4 462.5V362.2 M1157.7 462.5V389.0 M1167.7 462.5V353.3 M1183.3 462.5V371.2 M1193.1 462.5V353.3 M1193.1 462.5V371.2 M1195.0 462.5V398.0 M1192.8 462.5V406.9 M1200.7 462.5V398.0 M1204.4 462.5V371.2 M1207.9 462.5V380.1 M1224.1 462.5V371.2 M1224.5 462.5V380.1 M1229.2 462.5V380.1 M1240.5 462.5V389.0 M1240.0 462.5V406.9 M1250.9 462.5V389.0 M1252.8 462.5V371.2 M1258.4 462.5V371.2 M1260.3 462.5V362.2 M1260.3 462.5V398.0 M1267.8 462.5V380.1 M1270.7 462.5V389.0 M1277.3 462.5V380.1 M1282.9 462.5V353.3 M1282.0 462.5V362.2 M1287.6 462.5V389.0 M1297.6 462.5V380.1 M1307.8 462.5V362.2 M1305.1 462.5V371.2 M1322.1 462.5V380.1 M1334.9 462.5V335.4 M1340.0 462.5V335.4 M1340.0 462.5V344.4 M1331.7 462.5V353.3 M1340.0 462.5V362.2 M1340.0 462.5V371.2 M1350.5 462.5V380.1 M1334.9 462.5V389.0 M1346.2 462.5V389.0 M1340.0 462.5V398.0 M1361.0 462.5V344.4 M1358.8 462.5V362.2" stroke="#000" stroke-width="1.45" fill="none"/>
<rect x="72.5" y="341" width="14.8" height="121" fill="#000"/><rect x="110" y="372" width="6.5" height="90" fill="#000"/><rect x="104.2" y="418" width="13" height="44" fill="#000"/><rect x="98.7" y="418" width="3.7" height="44" fill="#000"/><path d="M81.5 462V335.4" stroke="#000" stroke-width="1.25"/><path d="M86.0 462V344.4" stroke="#000" stroke-width="1.25"/><path d="M102.5 462V335.4" stroke="#000" stroke-width="1.25"/><path d="M108.0 462V353.3" stroke="#000" stroke-width="1.25"/><path d="M110.8 462V344.4" stroke="#000" stroke-width="1.25"/><path d="M115.3 462V335.4" stroke="#000" stroke-width="1.25"/><path d="M121.6 462V335.4" stroke="#000" stroke-width="1.25"/><path d="M123.6 462V344.4" stroke="#000" stroke-width="1.25"/><path d="M127.6 462V353.3" stroke="#000" stroke-width="1.25"/><path d="M133 462V344.4" stroke="#000" stroke-width="1.25"/><path d="M88.6 462V353.3" stroke="#000" stroke-width="1.25"/><path d="M90.2 462V362.2" stroke="#000" stroke-width="1.25"/><path d="M92.6 462V344.4" stroke="#000" stroke-width="1.25"/><path d="M94.2 462V353.3" stroke="#000" stroke-width="1.25"/><path d="M95.8 462V362.2" stroke="#000" stroke-width="1.25"/><path d="M99.8 462V362.2" stroke="#000" stroke-width="1.25"/><path d="M101.2 462V371.2" stroke="#000" stroke-width="1.25"/><path d="M103.2 462V380.1" stroke="#000" stroke-width="1.25"/><path d="M105.8 462V371.2" stroke="#000" stroke-width="1.25"/><path d="M107.0 462V362.2" stroke="#000" stroke-width="1.25"/><path d="M117.6 462V371.2" stroke="#000" stroke-width="1.25"/><path d="M118.9 462V380.1" stroke="#000" stroke-width="1.25"/><path d="M119.6 462V362.2" stroke="#000" stroke-width="1.25"/><path d="M121.0 462V389.0" stroke="#000" stroke-width="1.25"/><path d="M122.4 462V371.2" stroke="#000" stroke-width="1.25"/><path d="M124.3 462V362.2" stroke="#000" stroke-width="1.25"/><path d="M125.2 462V380.1" stroke="#000" stroke-width="1.25"/><path d="M127.0 462V389.0" stroke="#000" stroke-width="1.25"/><path d="M128.6 462V362.2" stroke="#000" stroke-width="1.25"/><path d="M129.5 462V380.1" stroke="#000" stroke-width="1.25"/><path d="M130.4 462V398.0" stroke="#000" stroke-width="1.25"/><path d="M132.5 462V371.2" stroke="#000" stroke-width="1.25"/><path d="M134.0 462V380.1" stroke="#000" stroke-width="1.25"/><path d="M135.5 462V389.0" stroke="#000" stroke-width="1.25"/><path d="M137.6 462V400 M141 462V400 M143 462V400 M149.4 462V400 M153.2 462V400 M160 462V400 M163.7 462V400 M178.7 462V400" stroke="#000" stroke-width="1.25"/>
</g>
<circle cx="71.9" cy="227.8" r="5.45" fill="#f00" stroke="#000" stroke-width="1.35"/>
<circle cx="75.5" cy="227.8" r="5.45" fill="#f00" stroke="#000" stroke-width="1.35"/>
<circle cx="92.6" cy="236.4" r="5.45" fill="#f00" stroke="#000" stroke-width="1.35"/>
<circle cx="71.9" cy="250.1" r="5.45" fill="#f00" stroke="#000" stroke-width="1.35"/>
<circle cx="73.7" cy="254.2" r="5.45" fill="#f00" stroke="#000" stroke-width="1.35"/>
<circle cx="70.7" cy="258.4" r="5.45" fill="#f00" stroke="#000" stroke-width="1.35"/>
<circle cx="76.0" cy="263.8" r="5.45" fill="#f00" stroke="#000" stroke-width="1.35"/>
<circle cx="89.2" cy="263.3" r="5.45" fill="#f00" stroke="#000" stroke-width="1.35"/>
<circle cx="92.6" cy="263.3" r="5.45" fill="#f00" stroke="#000" stroke-width="1.35"/>
<circle cx="72.5" cy="272.7" r="5.45" fill="#f00" stroke="#000" stroke-width="1.35"/>
<circle cx="71.9" cy="279.2" r="5.45" fill="#f00" stroke="#000" stroke-width="1.35"/>
<circle cx="72.0" cy="287.8" r="5.45" fill="#f00" stroke="#000" stroke-width="1.35"/>
<circle cx="72.0" cy="293.8" r="5.45" fill="#f00" stroke="#000" stroke-width="1.35"/>
<circle cx="72.0" cy="301.5" r="5.45" fill="#f00" stroke="#000" stroke-width="1.35"/>
<circle cx="72.0" cy="309.2" r="5.45" fill="#f00" stroke="#000" stroke-width="1.35"/>
<circle cx="72.0" cy="317.6" r="5.45" fill="#f00" stroke="#000" stroke-width="1.35"/>
<circle cx="72.0" cy="325.9" r="5.45" fill="#f00" stroke="#000" stroke-width="1.35"/>
<circle cx="77.8" cy="295.6" r="5.45" fill="#f00" stroke="#000" stroke-width="1.35"/>
<circle cx="77.2" cy="310.4" r="5.45" fill="#f00" stroke="#000" stroke-width="1.35"/>
<circle cx="90.4" cy="281.0" r="5.45" fill="#f00" stroke="#000" stroke-width="1.35"/>
<circle cx="88.4" cy="302.0" r="5.45" fill="#f00" stroke="#000" stroke-width="1.35"/>
<circle cx="95.1" cy="310.4" r="5.45" fill="#f00" stroke="#000" stroke-width="1.35"/>
<circle cx="86.7" cy="310.4" r="5.45" fill="#f00" stroke="#000" stroke-width="1.35"/>
<circle cx="118.3" cy="325.9" r="5.45" fill="#f00" stroke="#000" stroke-width="1.35"/>
<circle cx="124.8" cy="317.6" r="5.45" fill="#f00" stroke="#000" stroke-width="1.35"/>
<circle cx="129.6" cy="309.8" r="5.45" fill="#f00" stroke="#000" stroke-width="1.35"/>
<circle cx="147.2" cy="287.9" r="5.45" fill="#f00" stroke="#000" stroke-width="1.35"/>
<circle cx="145.5" cy="302.8" r="5.45" fill="#f00" stroke="#000" stroke-width="1.35"/>
<circle cx="174.5" cy="299.9" r="5.45" fill="#f00" stroke="#000" stroke-width="1.35"/>
<circle cx="204.4" cy="295.3" r="5.45" fill="#f00" stroke="#000" stroke-width="1.35"/>
<circle cx="201.9" cy="303.3" r="5.45" fill="#f00" stroke="#000" stroke-width="1.35"/>
<circle cx="227.5" cy="302.8" r="5.45" fill="#f00" stroke="#000" stroke-width="1.35"/>
<circle cx="234.3" cy="310.5" r="5.45" fill="#f00" stroke="#000" stroke-width="1.35"/>
<circle cx="248.8" cy="317.5" r="5.45" fill="#f00" stroke="#000" stroke-width="1.35"/>
<circle cx="255.7" cy="326.0" r="5.45" fill="#f00" stroke="#000" stroke-width="1.35"/>
<circle cx="334.3" cy="290.5" r="5.45" fill="#f00" stroke="#000" stroke-width="1.35"/>
<circle cx="342.8" cy="310.5" r="5.45" fill="#f00" stroke="#000" stroke-width="1.35"/>
<circle cx="517.0" cy="183.3" r="5.45" fill="#f00" stroke="#000" stroke-width="1.35"/>
<circle cx="517.0" cy="295.0" r="5.45" fill="#f00" stroke="#000" stroke-width="1.35"/>
<circle cx="517.0" cy="302.7" r="5.45" fill="#f00" stroke="#000" stroke-width="1.35"/>
<circle cx="517.0" cy="310.7" r="5.45" fill="#f00" stroke="#000" stroke-width="1.35"/>
<circle cx="557.9" cy="310.7" r="5.45" fill="#f00" stroke="#000" stroke-width="1.35"/>
<circle cx="385.2" cy="326.1" r="5.45" fill="#f00" stroke="#000" stroke-width="1.35"/>
<circle cx="660.2" cy="246.2" r="5.45" fill="#f00" stroke="#000" stroke-width="1.35"/>
<circle cx="660.7" cy="272.8" r="5.45" fill="#f00" stroke="#000" stroke-width="1.35"/>
<circle cx="672.9" cy="288.2" r="5.45" fill="#f00" stroke="#000" stroke-width="1.35"/>
<circle cx="647.3" cy="302.9" r="5.45" fill="#f00" stroke="#000" stroke-width="1.35"/>
<circle cx="619.7" cy="310.5" r="5.45" fill="#f00" stroke="#000" stroke-width="1.35"/>
<circle cx="904.1" cy="192.2" r="5.45" fill="#f00" stroke="#000" stroke-width="1.35"/>
<circle cx="916.8" cy="317.3" r="5.45" fill="#f00" stroke="#000" stroke-width="1.35"/>
<circle cx="1002.7" cy="326.1" r="5.45" fill="#f00" stroke="#000" stroke-width="1.35"/>
<circle cx="1091.4" cy="326.1" r="5.45" fill="#f00" stroke="#000" stroke-width="1.35"/>
<circle cx="1114.4" cy="310.8" r="5.45" fill="#f00" stroke="#000" stroke-width="1.35"/>
<circle cx="1192.8" cy="288.3" r="5.45" fill="#f00" stroke="#000" stroke-width="1.35"/>
<circle cx="1192.8" cy="295.8" r="5.45" fill="#f00" stroke="#000" stroke-width="1.35"/>
<circle cx="1210.9" cy="310.8" r="5.45" fill="#f00" stroke="#000" stroke-width="1.35"/>
<circle cx="1257.9" cy="310.8" r="5.45" fill="#f00" stroke="#000" stroke-width="1.35"/>
<circle cx="1273.9" cy="290.5" r="5.45" fill="#f00" stroke="#000" stroke-width="1.35"/>
<circle cx="1339.5" cy="246.1" r="5.45" fill="#f00" stroke="#000" stroke-width="1.35"/>
<circle cx="1337.4" cy="255.2" r="5.45" fill="#f00" stroke="#000" stroke-width="1.35"/>
<circle cx="1339.5" cy="273.0" r="5.45" fill="#f00" stroke="#000" stroke-width="1.35"/>
<circle cx="1337.4" cy="288.3" r="5.45" fill="#f00" stroke="#000" stroke-width="1.35"/>
<circle cx="1361.0" cy="183.5" r="5.45" fill="#f00" stroke="#000" stroke-width="1.35"/>
<g clip-path="url(#ax)">
<path d="M71.9 462.5V227.8 M75.5 462.5V227.8 M92.6 462.5V236.4 M71.9 462.5V250.1 M73.7 462.5V254.2 M70.7 462.5V258.4 M76.0 462.5V263.8 M89.2 462.5V263.3 M92.6 462.5V263.3 M72.5 462.5V272.7 M71.9 462.5V279.2 M72.0 462.5V287.8 M72.0 462.5V293.8 M72.0 462.5V301.5 M72.0 462.5V309.2 M72.0 462.5V317.6 M72.0 462.5V325.9 M77.8 462.5V295.6 M77.2 462.5V310.4 M90.4 462.5V281.0 M88.4 462.5V302.0 M95.1 462.5V310.4 M86.7 462.5V310.4 M118.3 462.5V325.9 M124.8 462.5V317.6 M129.6 462.5V309.8 M147.2 462.5V287.9 M145.5 462.5V302.8 M174.5 462.5V299.9 M204.4 462.5V295.3 M201.9 462.5V303.3 M227.5 462.5V302.8 M234.3 462.5V310.5 M248.8 462.5V317.5 M255.7 462.5V326.0 M334.3 462.5V290.5 M342.8 462.5V310.5 M517.0 462.5V183.3 M517.0 462.5V295.0 M517.0 462.5V302.7 M517.0 462.5V310.7 M557.9 462.5V310.7 M385.2 462.5V326.1 M660.2 462.5V246.2 M660.7 462.5V272.8 M672.9 462.5V288.2 M647.3 462.5V302.9 M619.7 462.5V310.5 M904.1 462.5V192.2 M916.8 462.5V317.3 M1002.7 462.5V326.1 M1091.4 462.5V326.1 M1114.4 462.5V310.8 M1192.8 462.5V288.3 M1192.8 462.5V295.8 M1210.9 462.5V310.8 M1257.9 462.5V310.8 M1273.9 462.5V290.5 M1339.5 462.5V246.1 M1337.4 462.5V255.2 M1339.5 462.5V273.0 M1337.4 462.5V288.3 M1361.0 462.5V183.5" stroke="#f00" stroke-width="1.45" fill="none"/>
<path d="M73.6 462V228 M74.8 462V250 M76 462V264 M77.2 462V295 M78.4 462V310 M117.8 462V326 M124.2 462V318 M129.9 462V310" stroke="#f00" stroke-width="1.3"/>
</g>
<text x="220.0" y="504.3" font-size="33.8" text-anchor="middle" fill="#262626">2010</text>
<text x="400.1" y="504.3" font-size="33.8" text-anchor="middle" fill="#262626">2012</text>
<text x="580.2" y="504.3" font-size="33.8" text-anchor="middle" fill="#262626">2014</text>
<text x="759.9" y="504.3" font-size="33.8" text-anchor="middle" fill="#262626">2016</text>
<text x="940.2" y="504.3" font-size="33.8" text-anchor="middle" fill="#262626">2018</text>
<text x="1120.2" y="504.3" font-size="33.8" text-anchor="middle" fill="#262626">2020</text>
<text x="1300.2" y="504.3" font-size="33.8" text-anchor="middle" fill="#262626">2022</text>
<text x="60.6" y="427.7" font-size="33.8" text-anchor="end" fill="#262626">4</text>
<text x="60.6" y="338.4" font-size="33.8" text-anchor="end" fill="#262626">5</text>
<text x="60.6" y="249.1" font-size="33.8" text-anchor="end" fill="#262626">6</text>
<text x="60.6" y="159.7" font-size="33.8" text-anchor="end" fill="#262626">7</text>
<text x="60.6" y="70.4" font-size="33.8" text-anchor="end" fill="#262626">8</text>
<text x="716.7" y="544" font-size="33.8" text-anchor="middle" fill="#262626">Time</text>
<text transform="translate(27,259) rotate(-90)" font-size="33.3" text-anchor="middle" fill="#262626">Magnitude (Mw)</text>
<text x="89.5" y="118.4" font-size="27.7">Mw 7.9</text><text x="89.5" y="152.8" font-size="27.7">12-05-2008</text>
<text x="456.0" y="128.6" font-size="27.7">Mw 6.6</text><text x="456.0" y="163.0" font-size="27.7">20-04-2013</text>
<text x="843.0" y="136.7" font-size="27.7">Mw 6.5</text><text x="843.0" y="171.1" font-size="27.7">08--8-2017</text>
<text x="1262.0" y="141.1" font-size="27.7">Mw 6.6</text><text x="1262.0" y="175.5" font-size="27.7">05-09-2022</text>
<path d="M80.05 66.56L91.55 76.96 M103.61 87.85L115.11 98.24 M127.16 109.14L138.66 119.53 M150.72 130.43L162.22 140.82 M174.27 151.72L185.77 162.11 M188.30 165.00L193.29 169.51 M205.35 180.40L216.85 190.80 M228.91 201.69L240.41 212.08 M252.46 222.98L263.96 233.37 M276.02 244.27L287.52 254.66 M299.57 265.56L311.07 275.95 M323.13 286.85L334.63 297.24 M346.68 308.13L358.18 318.53 M370.24 329.42L381.74 339.81 M393.79 350.71L405.29 361.10 M417.35 372.00L428.85 382.39 M440.90 393.29L452.40 403.68 M464.46 414.58L475.96 424.97 M488.01 435.86L496.78 443.79 M529.64 181.62L542.16 190.78 M555.42 200.48L567.93 209.64 M581.20 219.34L593.71 228.50 M606.98 238.21L619.49 247.36 M632.76 257.07L645.27 266.22 M658.54 275.93L671.05 285.08 M684.32 294.79L696.83 303.94 M710.10 313.65L722.61 322.80 M735.88 332.51L748.39 341.66 M761.65 351.37L774.16 360.52 M787.43 370.23L799.94 379.38 M813.21 389.09L825.72 398.24 M838.99 407.95L851.50 417.10 M864.77 426.81L877.28 435.96 M854.50 418.60L860.20 422.80 M956.05 217.76L969.45 225.54 M983.80 233.86L997.20 241.64 M1011.50 249.21L1024.90 256.99 M1038.50 265.31L1051.90 273.09 M1065.70 281.41L1079.10 289.19 M1093.30 297.01L1106.70 304.79 M1121.00 313.11L1134.40 320.89 M1148.30 328.71L1161.70 336.49 M1176.30 344.91L1189.70 352.69 M1208.80 363.21L1222.20 370.99 M1235.20 378.91L1248.60 386.69 M1263.50 395.01L1276.90 402.79 M1291.00 411.51L1304.40 419.29 M1318.30 427.51L1331.70 435.29 M916.60 195.60L929.60 202.90 M933.50 207.20L942.00 210.60" stroke="#000" stroke-width="4.2" fill="none"/><polygon points="512.70,457.20 484.74,446.08 497.27,443.25 498.82,430.50" fill="#000"/><polygon points="903.90,456.10 874.94,447.92 887.11,443.82 887.34,430.97" fill="#000"/><polygon points="1350.20,445.20 1320.54,440.13 1332.21,434.76 1331.08,421.97" fill="#000"/>
<polygon points="72.50,52.83 75.78,62.92 86.39,62.92 77.80,69.16 81.08,79.24 72.50,73.01 63.92,79.24 67.20,69.16 58.61,62.92 69.22,62.92" fill="#f00" stroke="#000" stroke-width="1.2"/>
<path d="M72.5 460.5V67.4" stroke="#000" stroke-width="1.45"/>
<rect x="463.5" y="3" width="599" height="46" fill="#fff" stroke="#262626" stroke-width="1.4"/>
<path d="M472 26.3H530" stroke="#000" stroke-width="1.3"/>
<circle cx="530" cy="26.3" r="5.45" fill="#0f0" stroke="#000" stroke-width="1.35"/>
<text x="561" y="38.5" font-size="33.5">M&lt;5</text>
<path d="M643 26.3H701" stroke="#f00" stroke-width="1.3"/>
<circle cx="701" cy="26.3" r="5.45" fill="#f00" stroke="#000" stroke-width="1.35"/>
<text x="731.5" y="38.5" font-size="33.5">Mw&gt;=5</text>
<path d="M857 26.3H914.5" stroke="#000" stroke-width="1.3"/>
<polygon points="914.50,12.00 917.78,22.09 928.39,22.09 919.80,28.32 923.08,38.41 914.50,32.18 905.92,38.41 909.20,28.32 900.61,22.09 911.22,22.09" fill="#f00" stroke="#000" stroke-width="1.2"/>
<text x="945.5" y="38.5" font-size="33.5">Mw 7.9</text>
</svg></body></html>
